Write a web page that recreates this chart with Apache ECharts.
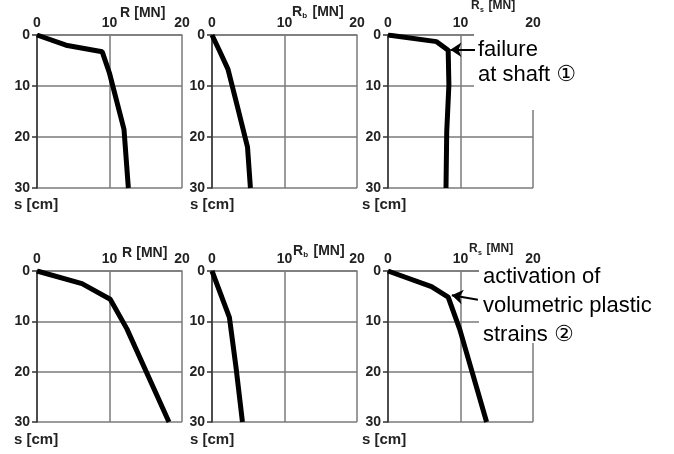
<!DOCTYPE html>
<html>
<head>
<meta charset="utf-8">
<script src="https://cdn.jsdelivr.net/npm/echarts@6/dist/echarts.min.js"></script>
<style>
  html, body { margin: 0; padding: 0; background: #fff; }
  #chart { width: 674px; height: 454px; }
</style>
</head>
<body>
<div id="chart"></div>
<script>
/* ================= DATA (R in MN, s in cm) ================= */
const rTop = [[0, 0], [4, 2], [9, 3.3], [10, 7.5], [12, 18.5], [12.6, 30]];
const rbTop = [[0, 0], [1, 3], [2.2, 6.7], [3.5, 14], [4.9, 22], [5.3, 30]];
const rsTop = [[0, 0], [6.7, 1.3], [8.3, 3], [8.4, 9.8], [8.1, 19], [8, 30]];

const rBottom = [[0, 0], [6.2, 2.5], [10.1, 5.6], [12.4, 11.5], [18.2, 30]];
const rbBottom = [[0, 0], [2.4, 9.2], [3.3, 19], [4.2, 30]];
const rsBottom = [[0, 0], [6, 3.1], [8.3, 5.2], [9.9, 11.6], [13.6, 30]];

const forceTicks = [0, 10, 20];
const settleTicks = [0, 10, 20, 30];

// annotation arrows [from, to] in data coords of the Rs panels
const arrowTop = [[12.0, 2.9], [8.6, 2.9]];
const arrowBottom = [[12.4, 5.7], [8.8, 4.8]];

const textTop = ["failure", "at shaft \u2460"];
const textBottom = ["activation of", "volumetric plastic", "strains \u2461"];

/* ================= LAYOUT ================= */
const colLeft = [37, 212, 388];
const rowTop = [35, 271];
const rowHeight = [153, 151];
const plotWidth = 145;

const FONT = '"Liberation Sans", Arial, "DejaVu Sans", "Noto Sans CJK JP", sans-serif';
const GRID_COLOR = "#7a7a7a";

const panels = [
  { data: rTop, row: 0, col: 0 },
  { data: rbTop, row: 0, col: 1 },
  { data: rsTop, row: 0, col: 2, arrow: arrowTop },
  { data: rBottom, row: 1, col: 0 },
  { data: rbBottom, row: 1, col: 1 },
  { data: rsBottom, row: 1, col: 2, arrow: arrowBottom },
];

const grids = panels.map((p) => ({
  left: colLeft[p.col],
  top: rowTop[p.row],
  width: plotWidth,
  height: rowHeight[p.row],
  containLabel: false,
  outerBoundsMode: "none",
}));

const xAxes = panels.map((p, i) => ({
  type: "value",
  gridIndex: i,
  position: "top",
  min: forceTicks[0],
  max: forceTicks[forceTicks.length - 1],
  interval: 10,
  axisLine: { show: true, lineStyle: { color: GRID_COLOR, width: 1.5 } },
  axisTick: { show: false },
  axisLabel: {
    margin: 5,
    color: "#222",
    fontFamily: FONT,
    fontWeight: "bold",
    fontSize: 14,
    showMinLabel: true,
    showMaxLabel: true,
  },
  splitLine: { show: true, lineStyle: { color: GRID_COLOR, width: 1.5 } },
}));

const yAxes = panels.map((p, i) => ({
  type: "value",
  gridIndex: i,
  inverse: true,
  min: settleTicks[0],
  max: settleTicks[settleTicks.length - 1],
  interval: 10,
  axisLine: { show: true, lineStyle: { color: "#333", width: 1.5 } },
  axisTick: { show: true, length: 5, lineStyle: { color: "#333", width: 1.5 } },
  axisLabel: {
    margin: 7,
    color: "#222",
    fontFamily: FONT,
    fontWeight: "bold",
    fontSize: 14,
    showMinLabel: true,
    showMaxLabel: true,
  },
  splitLine: { show: true, lineStyle: { color: GRID_COLOR, width: 1.5 } },
}));

const series = panels.map((p, i) => ({
  type: "line",
  xAxisIndex: i,
  yAxisIndex: i,
  data: p.data,
  showSymbol: false,
  smooth: false,
  z: 10,
  silent: true,
  animation: false,
  lineStyle: { color: "#000", width: 5 },
  markLine: p.arrow
    ? {
        silent: true,
        animation: false,
        symbol: ["none", "arrow"],
        symbolSize: 11,
        label: { show: false },
        lineStyle: { color: "#000", width: 2, type: "solid" },
        data: [[{ coord: p.arrow[0] }, { coord: p.arrow[1] }]],
      }
    : undefined,
}));

/* ================= TEXT HELPERS ================= */
function txt(text, x, y, font, fill) {
  return {
    type: "text",
    z: 20,
    style: { text, x, y, font, fill: fill || "#222", align: "left", verticalAlign: "middle" },
  };
}

// axis name "R", optional subscript, "[MN]"
function forceName(left, cy, sub, size) {
  const bold = `bold ${size}px ${FONT}`;
  const out = [txt("R", left, cy, bold)];
  let x = left + size * 0.74;
  if (sub) {
    out.push(txt(sub, x, cy + size * 0.3, `bold ${Math.round(size * 0.55)}px ${FONT}`));
    x += size * 0.45;
  }
  out.push(txt(" [MN]", x, cy, bold));
  return out;
}

const graphics = [
  // white boxes behind the annotations
  { type: "rect", z: 5, shape: { x: 474, y: 31, width: 80, height: 79 }, style: { fill: "#fff" } },
  { type: "rect", z: 5, shape: { x: 479, y: 267, width: 80, height: 76 }, style: { fill: "#fff" } },

  ...forceName(120, 13, "", 14),
  ...forceName(292, 12, "b", 14),
  ...forceName(471, 6, "s", 12),
  ...forceName(122, 253, "", 14),
  ...forceName(293, 251, "b", 14),
  ...forceName(469, 249, "s", 12),

  txt("s [cm]", 14, 205, `bold 15px ${FONT}`),
  txt("s [cm]", 190, 205, `bold 15px ${FONT}`),
  txt("s [cm]", 362, 205, `bold 15px ${FONT}`),
  txt("s [cm]", 14, 440, `bold 15px ${FONT}`),
  txt("s [cm]", 190, 440, `bold 15px ${FONT}`),
  txt("s [cm]", 362, 440, `bold 15px ${FONT}`),

  ...textTop.map((t, i) => txt(t, 478, 50 + i * 25, `22px ${FONT}`, "#000")),
  ...textBottom.map((t, i) => txt(t, 483, 277 + i * 29, `22px ${FONT}`, "#000")),
];

/* ================= CHART ================= */
const chart = echarts.init(document.getElementById("chart"), null, { renderer: "canvas" });
chart.setOption({
  backgroundColor: "#fff",
  animation: false,
  grid: grids,
  xAxis: xAxes,
  yAxis: yAxes,
  series,
  graphic: { elements: graphics },
});
</script>
</body>
</html>
